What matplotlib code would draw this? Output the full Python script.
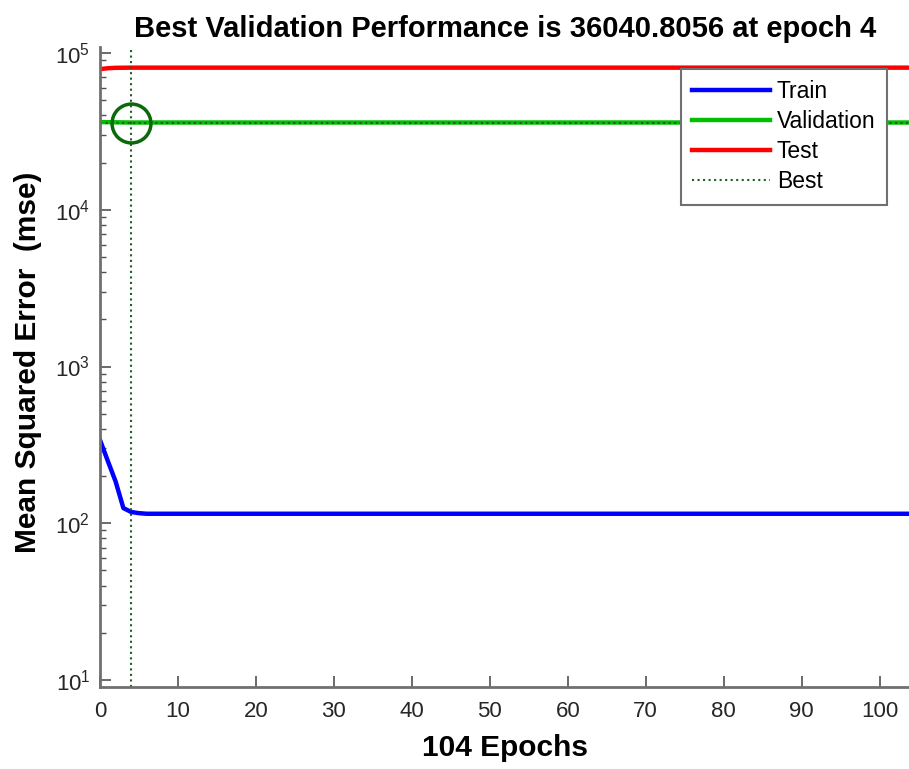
import matplotlib.pyplot as plt
from matplotlib.ticker import LogLocator, NullFormatter

plt.rcParams['font.family'] = ['Liberation Sans', 'DejaVu Sans']
plt.rcParams['mathtext.default'] = 'regular'

# curvas de entrenamiento (mse por época)
ep_train = [0, 1, 2, 3, 4, 5, 6, 10, 104]
mse_train = [340, 250, 185, 125, 118, 116, 115, 115, 115]

ep_val = [0, 2, 4, 6, 104]
mse_val = [36300, 36150, 36040.8056, 36045, 36050]

ep_test = [0, 1, 2, 4, 104]
mse_test = [79000, 80000, 80500, 80700, 80700]

best_epoch = 4
best_perf = 36040.8056
total_epochs = 104

# ---------------------------------------------------------
# Figura
# ---------------------------------------------------------
fig = plt.figure(figsize=(9.09, 7.69), dpi=100)
ax = fig.add_axes([0.110, 0.1066, 0.892, 0.8322])

ax.plot(ep_train, mse_train, color='#0000ff', lw=3.2, label='Train')
ax.plot(ep_val, mse_val, color='#00c000', lw=3.2, label='Validation')
ax.plot(ep_test, mse_test, color='#ff0000', lw=3.2, label='Test')

# líneas de la mejor época
ax.axvline(best_epoch, color='#1f5f1f', ls=':', lw=1.5, label='Best')
ax.axhline(best_perf, color='#1f5f1f', ls=':', lw=1.5)
ax.plot([best_epoch], [best_perf], 'o', ms=28, mfc='none', mec='#0a6a0a', mew=2.5)

ax.set_yscale('log')
ax.set_xlim(0, total_epochs)
ax.set_ylim(9.02, 1.092e5)
ax.set_xticks(range(0, 101, 10))
ax.yaxis.set_major_locator(LogLocator(base=10, numticks=10))
ax.yaxis.set_minor_locator(LogLocator(base=10, subs=range(2, 10), numticks=10))
ax.yaxis.set_minor_formatter(NullFormatter())

for s in ['top', 'right']:
    ax.spines[s].set_visible(False)
for s in ['left', 'bottom']:
    ax.spines[s].set_color('#707070')
    ax.spines[s].set_linewidth(2)

ax.tick_params(which='major', direction='in', length=8, width=1.2, color='#505050',
               labelsize=16, labelcolor='#262626')
ax.tick_params(which='minor', direction='in', length=4, width=1, color='#505050')
ax.tick_params(axis='y', pad=7)
ax.tick_params(axis='x', pad=10)

ax.set_title('Best Validation Performance is %.4f at epoch %d' % (best_perf, best_epoch),
             fontsize=21, fontweight='bold', pad=7)
ax.set_xlabel('%d Epochs' % total_epochs, fontsize=21.5, fontweight='bold', labelpad=9)
ax.set_ylabel('Mean Squared Error  (mse)', fontsize=21.5, fontweight='bold')
ax.yaxis.set_label_coords(-0.072, 0.507)

leg = ax.legend(loc='upper right', bbox_to_anchor=(0.9758, 0.9103),
                bbox_transform=fig.transFigure, borderaxespad=0, fontsize=16.5,
                fancybox=False, handlelength=3.4, handletextpad=0.3,
                labelspacing=0.3, borderpad=0.5, framealpha=1)
leg.get_frame().set_edgecolor('#707070')
leg.get_frame().set_linewidth(1.5)

fig.savefig('out.png', dpi=100)
